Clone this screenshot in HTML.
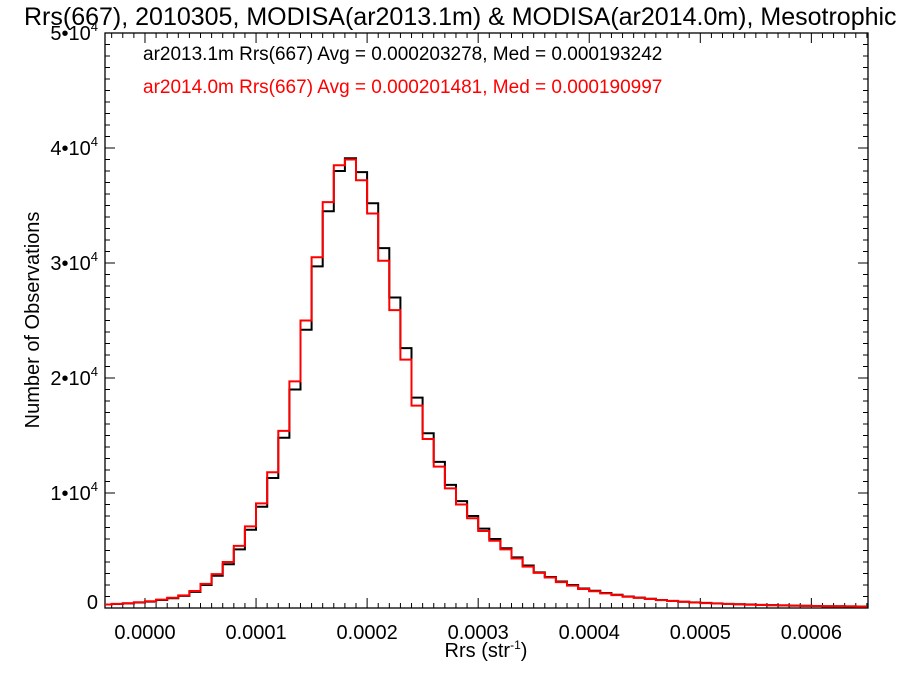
<!DOCTYPE html>
<html><head><meta charset="utf-8"><style>
html,body{margin:0;padding:0;background:#fff;overflow:hidden;}
svg{display:block;font-family:"Liberation Sans",sans-serif;}
</style></head><body>
<svg id="chart" width="900" height="675" viewBox="0 0 900 675">
<text x="24" y="25" font-size="25" fill="#000">Rrs(667), 2010305, MODISA(ar2013.1m) &amp; MODISA(ar2014.0m), Mesotrophic</text>
<text x="143" y="60" font-size="19" fill="#000">ar2013.1m Rrs(667) Avg = 0.000203278, Med = 0.000193242</text>
<text x="143" y="93" font-size="19" fill="#ff0000">ar2014.0m Rrs(667) Avg = 0.000201481, Med = 0.000190997</text>
<text transform="translate(39,320) rotate(-90)" text-anchor="middle" font-size="20">Number of Observations</text>
<text x="486" y="657" text-anchor="middle" font-size="20">Rrs (str<tspan font-size="12" dy="-8">-1</tspan><tspan dy="8">)</tspan></text>
<g id="axes"></g>
<g id="series"></g>
</svg>
<script>
const binStart = -0.00004;
const binWidth = 0.00001;
const countsAr2013 = [300,350,400,480,560,700,850,1050,1400,2000,2800,3800,5100,6800,8800,11300,14800,19000,24200,29700,34500,38000,39100,37900,35200,31300,27000,22600,18300,15200,12700,10700,9300,8000,6900,6000,5200,4400,3700,3100,2700,2300,2000,1700,1500,1300,1150,1000,900,800,700,620,550,490,440,400,360,330,300,270,250,230,210,190,175,160,150,140,130];
const countsAr2014 = [300,360,420,500,590,730,890,1100,1480,2100,2950,4000,5400,7100,9100,11800,15400,19700,25000,30500,35300,38500,39000,37200,34300,30200,25900,21600,17600,14700,12300,10400,9000,7800,6700,5850,5100,4300,3600,3050,2650,2250,1950,1650,1450,1270,1120,980,880,780,690,610,540,480,430,390,350,320,290,265,245,225,205,185,170,155,145,135,125];
const xTicks = [0,0.0001,0.0002,0.0003,0.0004,0.0005,0.0006];
const xTickLabels = ["0.0000","0.0001","0.0002","0.0003","0.0004","0.0005","0.0006"];
const yTicks = [0,10000,20000,30000,40000,50000];
const yTickMant = ["0","1","2","3","4","5"];

const L=105,R=868,T=33,B=608;
const xMin=-0.000036,xMax=0.000651,yMin=0,yMax=50000;
const X=v=>L+(v-xMin)/(xMax-xMin)*(R-L);
const Y=v=>B-(v-yMin)/(yMax-yMin)*(B-T);
const NS="http://www.w3.org/2000/svg";
const axes=document.getElementById('axes');
const ser=document.getElementById('series');
function mk(tag,attrs,parent){const e=document.createElementNS(NS,tag);for(const k in attrs)e.setAttribute(k,attrs[k]);parent.appendChild(e);return e;}

const frame=mk('rect',{x:L,y:T,width:R-L,height:B-T,fill:'none',stroke:'#000','stroke-width':1.3},axes);



for(let i=-3;i<=65;i++){
  const v=i*0.00001; const x=X(v); if(x<L||x>R) continue;
  const len=(i%10===0)?10:5;
  const t1=mk('line',{x1:x,y1:B,x2:x,y2:B-len,stroke:'#000','stroke-width':1},axes);
  
  
  const t2=mk('line',{x1:x,y1:T,x2:x,y2:T+len,stroke:'#000','stroke-width':1},axes);
  
  
}
xTicks.forEach((v,i)=>{
  const t=mk('text',{x:X(v),y:B+31,'text-anchor':'middle','font-size':20},axes);
  t.textContent=xTickLabels[i];
  
  
});
for(let i=0;i<=50;i++){
  const v=i*1000; const y=Y(v);
  const len=(i%10===0)?10:5;
  const t1=mk('line',{x1:L,y1:y,x2:L+len,y2:y,stroke:'#000','stroke-width':1},axes);
  
  
  const t2=mk('line',{x1:R,y1:y,x2:R-len,y2:y,stroke:'#000','stroke-width':1},axes);
  
  
}
yTicks.forEach((v,i)=>{
  const y=Y(v)+(v===0?1:7);
  const t=mk('text',{x:98,y:y,'text-anchor':'end','font-size':20},axes);
  if(v===0){t.textContent='0';}
  else{
    t.textContent=yTickMant[i]+'\u202210';
    const s=mk('tspan',{'font-size':13,dy:-9},t); s.textContent='4';
  }
  
  
});

function stepPath(counts){
  let d='';
  counts.forEach((c,i)=>{
    const x0=Math.max(L,X(binStart+i*binWidth)), x1=Math.min(R,X(binStart+(i+1)*binWidth)), y=Y(c);
    d+=(i===0?'M':'L')+x0.toFixed(1)+','+y.toFixed(1)+'L'+x1.toFixed(1)+','+y.toFixed(1);
  });
  return d;
}
const p1=mk('path',{d:stepPath(countsAr2013),fill:'none',stroke:'#000','stroke-width':2},ser);


const p2=mk('path',{d:stepPath(countsAr2014),fill:'none',stroke:'#ff0000','stroke-width':2},ser);


</script>
</body></html>
